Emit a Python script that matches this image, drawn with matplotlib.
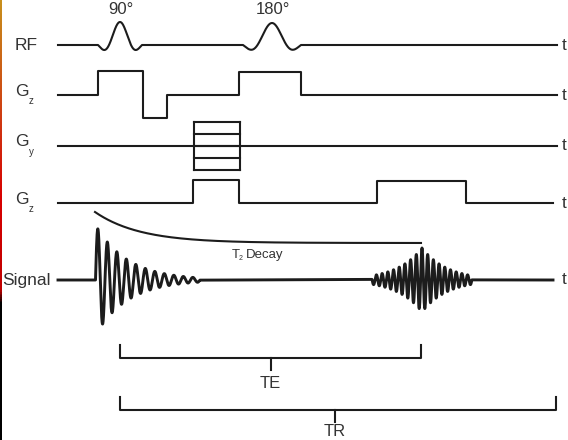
import numpy as np
import matplotlib.pyplot as plt
from matplotlib.colors import LinearSegmentedColormap

plt.rcParams['font.family'] = ['Liberation Sans', 'DejaVu Sans']

# ---- diagram data (time axis in pixel-like units, amplitudes in px) ----
row_names = ['RF', 'G', 'G', 'G', 'Signal']
row_subs = ['', 'z', 'y', 'z', '']

rf_labels = ['90°', '180°']
rf_centers = [120, 272]
rf_halfwidths = [22, 29]
rf_heights = [23, 22]

gz1_lobes = [(98, 143, 24), (143, 167, -23), (239, 301, 23)]
gy_window = (194, 240)
gy_steps = [24, 12, 0, -12, -24]
gz2_lobes = [(193, 239, 23), (377, 466, 22)]

fid_start, fid_end = 95.5, 200
fid_amp, fid_tau, fid_period = 55, 32, 9.5
echo_center, echo_halfwidth = 422, 50
echo_amp, echo_tau, echo_period = 32, 25, 5.7

t2_start, t2_end = 95, 421
t2_drop, t2_tau = 31, 45

te_span = (120, 421)
tr_span = (120, 556)
tr_mid = 335

# ---- layout ----
t0, t1 = 58, 557
baselines = [45, 95, 146, 203, 280]
ink = '#1c1c1c'
txt = '#333333'

fig = plt.figure(figsize=(5.68, 4.4), dpi=100)
ax = fig.add_axes([0, 0, 1, 1])
ax.set_xlim(0, 568)
ax.set_ylim(440, 0)
ax.axis('off')


def step_wave(lobes, y0, end=t1):
    xs, ys = [t0], [y0]
    for a, b, h in lobes:
        xs += [a, a, b, b]
        ys += [y0, y0 - h, y0 - h, y0]
    xs.append(end)
    ys.append(y0)
    return xs, ys


# RF
y0 = baselines[0]
xs = [t0]
ys = [y0]
for c, hw, h in zip(rf_centers, rf_halfwidths, rf_heights):
    x = np.linspace(c - hw, c + hw, 200)
    xs += list(x)
    ys += list(y0 - h * np.sinc((x - c) / (hw / 2)))
xs.append(t1)
ys.append(y0)
ax.plot(xs, ys, color=ink, lw=1.5)
for lab, c in zip(rf_labels, rf_centers):
    ax.text(c + 1, 14, lab, ha='center', va='baseline', fontsize=12, color=txt)

# Gz (slice)
xs, ys = step_wave(gz1_lobes, baselines[1])
ax.plot(xs, ys, color=ink, lw=1.5)

# Gy (phase table)
y0 = baselines[2]
ax.plot([t0, t1], [y0, y0], color=ink, lw=1.5)
a, b = gy_window
for h in gy_steps:
    ax.plot([a, b], [y0 - h, y0 - h], color=ink, lw=1.5)
ax.plot([a, a], [y0 - max(gy_steps), y0 - min(gy_steps)], color=ink, lw=1.5)
ax.plot([b, b], [y0 - max(gy_steps), y0 - min(gy_steps)], color=ink, lw=1.5)

# Gz (readout)
xs, ys = step_wave(gz2_lobes, baselines[3], end=553)
ax.plot(xs, ys, color=ink, lw=1.5)

# Signal
y0 = baselines[4]
xf = np.arange(fid_start, fid_end, 0.1)
sf = fid_amp * np.exp(-(xf - fid_start) / fid_tau) * np.sin(2 * np.pi * (xf - fid_start) / fid_period)
xe = np.arange(echo_center - echo_halfwidth, echo_center + echo_halfwidth, 0.1)
se = echo_amp * np.exp(-np.abs(xe - echo_center) / echo_tau) * np.cos(2 * np.pi * (xe - echo_center) / echo_period)
xs = np.concatenate([[t0], xf, xe, [553]])
ys = np.concatenate([[y0], y0 - sf, y0 - se, [y0]])
ax.plot(xs, ys, color=ink, lw=2.1)

# T2 decay envelope
xd = np.linspace(t2_start, t2_end, 300)
yd = (y0 - 37) - t2_drop * np.exp(-(xd - t2_start) / t2_tau)
ax.plot(xd, yd, color=ink, lw=1.5)
ax.text(232, 255, 'T', fontsize=9.5, color=txt, va='center', ha='left')
ax.text(239, 259, '2', fontsize=5, color=txt, va='center', ha='left')
ax.text(246, 255, 'Decay', fontsize=9.5, color=txt, va='center', ha='left')

# row labels and t
for name, sub, y in zip(row_names, row_subs, baselines):
    if name == 'Signal':
        ax.text(2, y, name, fontsize=12.5, color=txt, va='center', ha='left')
    else:
        ax.text(15, y - 4 if sub else y, name, fontsize=12.5, color=txt, va='center', ha='left')
        if sub:
            ax.text(29, y + 6, sub, fontsize=7, color=txt, va='center', ha='left')
    ax.text(562, y, 't', fontsize=12.5, color=txt, va='center', ha='left')

# TE / TR brackets
for (a, b), mid, yb, dy, lab in [(te_span, sum(te_span) / 2, 358, 30, 'TE'),
                                 (tr_span, tr_mid, 410, 26, 'TR')]:
    ax.plot([a, a, b, b], [yb - 13, yb, yb, yb - 13], color=ink, lw=1.5)
    ax.plot([mid, mid], [yb, yb + 12], color=ink, lw=1.5)
    ax.text(mid, yb + dy, lab, fontsize=12, color=txt, ha='center', va='baseline')

# coloured strip on the left edge
strip = LinearSegmentedColormap.from_list('strip', [(0, '#c8901c'), (0.3, '#d03010'),
                                                    (0.45, '#d80000'), (0.66, '#c00000'),
                                                    (0.69, '#000000'), (1, '#000000')])
ax.imshow(np.linspace(0, 1, 440)[:, None], cmap=strip, extent=(0, 2, 440, 0), aspect='auto')
ax.set_xlim(0, 568)
ax.set_ylim(440, 0)

fig.savefig('out.png', dpi=100)
